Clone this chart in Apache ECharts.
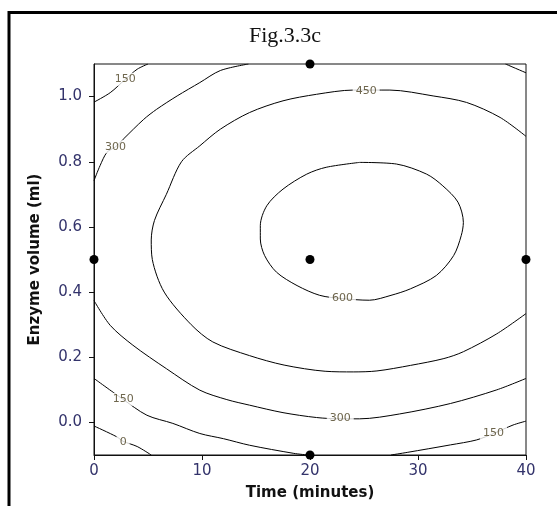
<!DOCTYPE html>
<html>
<head>
<meta charset="utf-8">
<script src="https://cdn.jsdelivr.net/npm/echarts@6/dist/echarts.min.js"></script>
<style>
  html, body { margin: 0; padding: 0; background: #fff; }
  #chart { width: 557px; height: 506px; }
</style>
</head>
<body>
<div id="chart"></div>
<script>
// contour lines, [time, enzyme volume]
const c600 = [[24.6,0.798],[21.5,0.783],[19.7,0.762],[17.5,0.716],[16.0,0.665],[15.4,0.604],[15.4,0.563],[15.8,0.512],[16.9,0.461],[18.8,0.42],[20.9,0.39],[23.0,0.38],[25.5,0.375],[27.5,0.39],[29.3,0.41],[31.7,0.451],[33.3,0.512],[34.0,0.573],[34.2,0.614],[33.7,0.676],[32.3,0.726],[30.8,0.762],[28.0,0.793],[24.6,0.798]]
const c450 = [[40,0.878],[37.6,0.936],[34.5,0.982],[31.4,1.002],[27.4,1.02],[24.0,1.02],[20.6,1.007],[17.5,0.987],[14.4,0.951],[11.7,0.9],[9.8,0.849],[8.1,0.8],[6.7,0.7],[5.6,0.62],[5.3,0.56],[5.4,0.5],[6.5,0.4],[9.0,0.3],[11.0,0.247],[14.4,0.205],[17.6,0.176],[21.4,0.157],[24.0,0.155],[26.2,0.158],[29.3,0.175],[32.4,0.196],[34.2,0.217],[37.3,0.272],[40,0.334]]
const c300Top = [[0,0.742],[0.56,0.788],[1.2,0.829],[2.0,0.846],[2.7,0.869],[4.6,0.93],[5.8,0.961],[7.7,1.002],[9.8,1.043],[11.7,1.08],[14.3,1.1]]
const c300Low = [[0,0.374],[1.5,0.298],[3.6,0.237],[6.7,0.165],[9.8,0.099],[12.3,0.07],[14.4,0.053],[17.5,0.03],[20.6,0.015],[22.8,0.011],[24.6,0.011],[28.3,0.026],[33.0,0.058],[37.3,0.1],[40,0.135]]
const c150TopL = [[0,0.983],[1.5,1.012],[2.9,1.053],[4.0,1.084],[5.0,1.1]]
const c150TopR = [[38.1,1.1],[40,1.073]]
const c150LowL = [[0,0.135],[2.6,0.073],[4.9,0.022],[7.3,-0.003],[9.8,-0.034],[12.0,-0.05],[14.4,-0.07],[18.5,-0.095],[19.8,-0.1]]
const c150LowR = [[27.5,-0.1],[29.0,-0.092],[33.0,-0.069],[35.4,-0.054],[37.0,-0.034],[38.8,-0.008],[40,0.004]]
const c0 = [[0,-0.011],[2.1,-0.044],[2.7,-0.058],[4.0,-0.074],[5.3,-0.1]]

const contourLabels = [
  [25.2, 1.017, '450'], [23.0, 0.38, '600'], [22.8, 0.012, '300'], [37.0, -0.034, '150'],
  [2.7, -0.061, '0'], [2.7, 0.071, '150'], [2.9, 1.053, '150'], [2.0, 0.846, '300']
]
const designPoints = [[0,0.5],[20,0.5],[40,0.5],[20,1.1],[20,-0.1]]

const xTicks = [0, 10, 20, 30, 40]
const yTicks = [0, 0.2, 0.4, 0.6, 0.8, 1.0]

const chart = echarts.init(document.getElementById('chart'))

const contourSeries = [c600, c450, c300Top, c300Low, c150TopL, c150TopR, c150LowL, c150LowR, c0].map(d => ({
  type: 'line',
  data: d,
  smooth: 0.3,
  symbol: 'none',
  clip: true,
  lineStyle: { color: '#000', width: 1 },
  silent: true,
  z: 2
}))

chart.setOption({
  animation: false,
  title: {
    text: 'Fig.3.3c',
    left: 280,
    top: 20,
    textAlign: 'center',
    textStyle: { fontFamily: 'Liberation Serif', fontWeight: 'normal', fontSize: 22, color: '#111' }
  },
  graphic: [{
    type: 'rect',
    shape: { x: 9, y: 12.5, width: 700, height: 700 },
    style: { fill: 'none', stroke: '#000', lineWidth: 3 }
  }],
  grid: { left: 94, right: 31, top: 64, bottom: 50, show: true, borderColor: '#111', borderWidth: 1 },
  xAxis: {
    type: 'value',
    min: 0, max: 40, interval: 10,
    name: 'Time (minutes)',
    nameLocation: 'middle',
    nameGap: 31,
    nameTextStyle: { fontFamily: 'DejaVu Sans', fontWeight: 'bold', fontSize: 15, color: '#111' },
    axisLine: { onZero: false, lineStyle: { color: '#111', width: 1 } },
    axisTick: { show: true, length: 5, lineStyle: { color: '#111' } },
    axisLabel: { margin: 9, fontFamily: 'DejaVu Sans', fontSize: 15, color: '#33336b',
      customValues: xTicks },
    splitLine: { show: false }
  },
  yAxis: {
    type: 'value',
    min: -0.1, max: 1.1,
    name: 'Enzyme volume (ml)',
    nameLocation: 'middle',
    nameGap: 51,
    nameRotate: 90,
    nameTextStyle: { fontFamily: 'DejaVu Sans', fontWeight: 'bold', fontSize: 15, color: '#111' },
    axisLine: { show: true, onZero: false, lineStyle: { color: '#111', width: 1 } },
    axisTick: { show: true, length: 5, lineStyle: { color: '#111' }, customValues: yTicks },
    axisLabel: { margin: 12, fontFamily: 'DejaVu Sans', fontSize: 15, color: '#33336b',
      customValues: yTicks, formatter: v => v.toFixed(1) },
    splitLine: { show: false }
  },
  series: [
    ...contourSeries,
    {
      type: 'scatter',
      data: contourLabels.map(l => ({ value: [l[0], l[1]], name: l[2] })),
      symbolSize: 1,
      itemStyle: { color: 'rgba(0,0,0,0)' },
      silent: true,
      z: 4,
      label: {
        show: true,
        position: 'inside',
        formatter: p => p.name,
        fontFamily: 'DejaVu Sans',
        fontSize: 11,
        color: '#4a4020',
        backgroundColor: '#fff',
        padding: [1, 3]
      }
    },
    {
      type: 'scatter',
      data: designPoints,
      symbol: 'circle',
      symbolSize: 9,
      clip: false,
      silent: true,
      itemStyle: { color: '#000', opacity: 1 },
      z: 5
    }
  ]
})
</script>
</body>
</html>
